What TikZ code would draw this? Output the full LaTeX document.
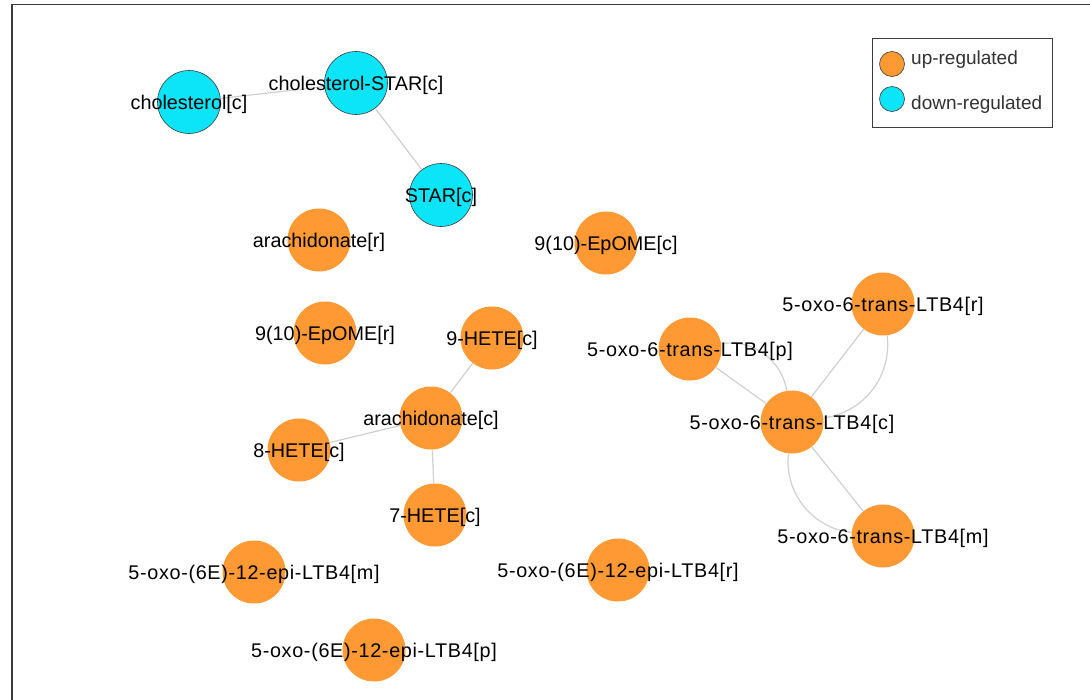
\documentclass[tikz,border=0pt]{standalone}
\usepackage{fontspec}
\setmainfont{Liberation Sans}
\newfontfamily\spacedfont[LetterSpace=3.4]{Liberation Sans}
\definecolor{uporange}{RGB}{254,153,52}
\definecolor{downcyan}{RGB}{11,229,247}
\definecolor{edgegray}{RGB}{208,208,208}
\definecolor{framegray}{RGB}{60,60,60}
\definecolor{legendtext}{RGB}{50,50,50}
\tikzset{
  upnode/.style={circle, fill=uporange, draw=none, minimum size=63pt, inner sep=0pt},
  downnode/.style={circle, fill=downcyan, draw=framegray, line width=0.6pt, minimum size=63pt, inner sep=0pt},
  lab/.style={anchor=base, inner sep=0pt, text=black, font=\fontsize{19.8}{22}\selectfont},
  slab/.style={anchor=base, inner sep=0pt, text=black, font=\fontsize{19.8}{22}\selectfont\spacedfont},
  edge/.style={draw=edgegray, line width=1.2pt},
  legcirc/.style={circle, draw=framegray, line width=0.6pt, minimum size=25pt, inner sep=0pt},
  legtext/.style={anchor=base west, inner sep=0pt, text=legendtext, font=\fontsize{19}{22}\selectfont}
}
\begin{document}
\begin{tikzpicture}[x=1pt, y=-1pt]
\useasboundingbox (0,0) rectangle (1090,699);
\clip (0,0) rectangle (1090,699);
\fill[white] (0,0) rectangle (1090,699);
\draw[framegray, line width=1.6pt] (12,4.5) rectangle (1120,730);

% nodes
\node[downnode] (chol) at (189,102) {};
\node[downnode] (cholstar) at (356,83) {};
\node[downnode] (star) at (441,195) {};
\node[upnode] (arar) at (319,240) {};
\node[upnode] (epc) at (606,243) {};
\node[upnode] (epr) at (325,333) {};
\node[upnode] (hete9) at (492,338) {};
\node[upnode] (arac) at (431,418) {};
\node[upnode] (hete8) at (299,450) {};
\node[upnode] (hete7) at (435,515) {};
\node[upnode] (ltbp) at (690,349) {};
\node[upnode] (ltbc) at (792,422) {};
\node[upnode] (ltbr) at (883,304) {};
\node[upnode] (ltbm) at (883,536) {};
\node[upnode] (epim) at (254,572) {};
\node[upnode] (epir) at (618,570) {};
\node[upnode] (epip) at (374,650) {};

% edges
\draw[edge] (chol) -- (cholstar);
\draw[edge] (cholstar) -- (star);
\draw[edge] (arac) -- (hete9);
\draw[edge] (arac) -- (hete8);
\draw[edge] (arac) -- (hete7);
\draw[edge] (ltbp) -- (ltbc);
\draw[edge] (ltbp) to[bend left=45] (ltbc);
\draw[edge] (ltbr) -- (ltbc);
\draw[edge] (ltbr) to[bend left=45] (ltbc);
\draw[edge] (ltbm) -- (ltbc);
\draw[edge] (ltbm) to[bend left=45] (ltbc);

% labels
\path (chol) ++(0,7) node[lab] (lchol) {cholesterol[c]};
\path (cholstar) ++(0,7) node[lab] (lcholstar) {cholesterol-STAR[c]};
\path (star) ++(0,7) node[lab] (lstar) {STAR[c]};
\path (arar) ++(0,7) node[lab] (larar) {arachidonate[r]};
\path (epc) ++(0,7) node[lab] (lepc) {9(10)-EpOME[c]};
\path (epr) ++(0,7) node[lab] (lepr) {9(10)-EpOME[r]};
\path (hete9) ++(0,7) node[lab] (lhete9) {9-HETE[c]};
\path (arac) ++(0,7) node[lab] (larac) {arachidonate[c]};
\path (hete8) ++(0,7) node[lab] (lhete8) {8-HETE[c]};
\path (hete7) ++(0,7) node[lab] (lhete7) {7-HETE[c]};
\path (ltbp) ++(0,7) node[slab] (lltbp) {5-oxo-6-trans-LTB4[p]};
\path (ltbc) ++(0,7) node[slab] (lltbc) {5-oxo-6-trans-LTB4[c]};
\path (ltbr) ++(0,7) node[slab] (lltbr) {5-oxo-6-trans-LTB4[r]};
\path (ltbm) ++(0,7) node[slab] (lltbm) {5-oxo-6-trans-LTB4[m]};
\path (epim) ++(0,7) node[slab] (lepim) {5-oxo-(6E)-12-epi-LTB4[m]};
\path (epir) ++(0,7) node[slab] (lepir) {5-oxo-(6E)-12-epi-LTB4[r]};
\path (epip) ++(0,7) node[slab] (lepip) {5-oxo-(6E)-12-epi-LTB4[p]};

% legend
\node[draw=framegray, line width=1pt, fill=white, minimum width=180pt, minimum height=89pt, inner sep=0pt] (legend) at (962,82.5) {};
\node[legcirc, fill=uporange] (legup) at (892,64) {};
\node[legcirc, fill=downcyan] (legdown) at (892,99) {};
\node[legtext] (legupt) at (911,64) {up-regulated};
\node[legtext] (legdownt) at (911,109) {down-regulated};
\end{tikzpicture}
\end{document}
